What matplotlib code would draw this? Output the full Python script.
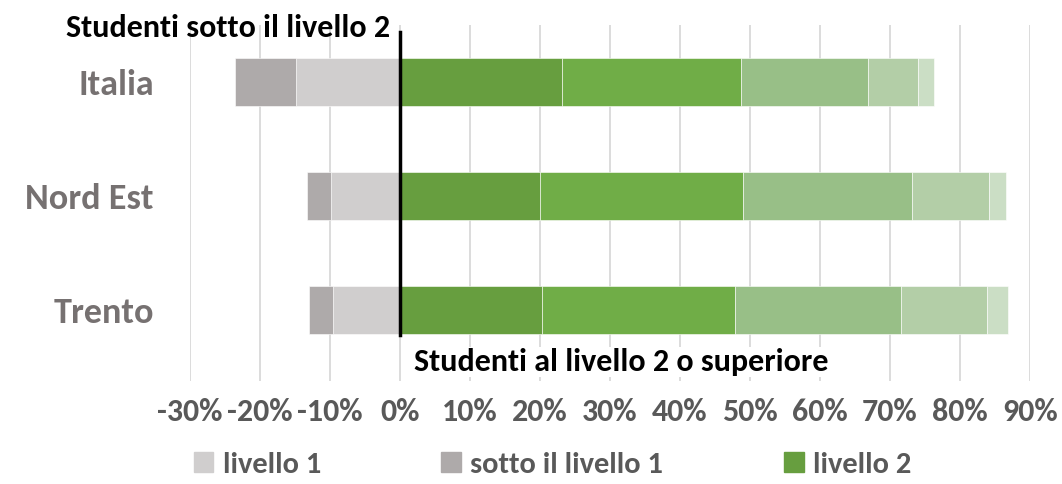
import matplotlib
matplotlib.use("Agg")
import matplotlib.pyplot as plt
from matplotlib import font_manager
from matplotlib.patches import Patch
import numpy as np

# pick a Calibri-like font if there is one
fam = "Lato"
for f in ["Carlito", "Liberation Sans Narrow"]:
    try:
        font_manager.findfont(f, fallback_to_default=False)
        fam = f
        break
    except Exception:
        pass
plt.rcParams["font.family"] = [fam, "DejaVu Sans"]

categorie = ["Italia", "Nord Est", "Trento"]
sotto_livello1 = [8.8, 3.4, 3.4]
livello1 = [14.8, 9.9, 9.6]
livello2 = [23.1, 20.0, 20.3]
livello3 = [25.6, 29.0, 27.5]
livello4 = [18.1, 24.1, 23.7]
livello5 = [7.2, 11.0, 12.4]
livello6 = [2.3, 2.5, 3.0]

ticks = [-30, -20, -10, 0, 10, 20, 30, 40, 50, 60, 70, 80, 90]

grigio = "#767171"
grigio_scuro = "#595959"
col_l1 = "#d0cece"
col_sotto = "#aeaaaa"
verdi = ["#679e3f", "#70ad47", "#98bf87", "#b3cea7", "#cbdec5"]

fig = plt.figure(figsize=(10.62, 4.84), dpi=100)
ax = fig.add_axes([190 / 1062, 1 - 381 / 484, 840 / 1062, 356 / 484])

y = np.arange(len(categorie))
h = 0.42

l1 = np.array(livello1)
ax.barh(y, -l1, height=h, color=col_l1, edgecolor="white", linewidth=0.4, zorder=2)
ax.barh(y, -np.array(sotto_livello1), left=-l1, height=h, color=col_sotto,
        edgecolor="white", linewidth=0.4, zorder=2)

left = np.zeros(len(categorie))
for serie, c in zip([livello2, livello3, livello4, livello5, livello6], verdi):
    ax.barh(y, serie, left=left, height=h, color=c, edgecolor="white",
            linewidth=0.4, zorder=2)
    left += np.array(serie)

ax.set_xlim(-30, 90)
ax.set_ylim(2.623, -0.5)
ax.set_xticks(ticks)
ax.set_xticklabels([f"{t}%" for t in ticks])
ax.set_yticks(y)
ax.set_yticklabels(categorie)
ax.xaxis.grid(True, color="#d9d9d9", linewidth=1.3, zorder=0)
ax.set_axisbelow(True)
for s in ax.spines.values():
    s.set_visible(False)
ax.tick_params(axis="both", length=0)
ax.tick_params(axis="x", pad=12, labelsize=23, labelcolor=grigio_scuro)
ax.tick_params(axis="y", pad=26, labelsize=26, labelcolor=grigio)
for lab in ax.get_xticklabels() + ax.get_yticklabels():
    lab.set_fontweight("bold")

ax.axvline(0, ymin=0.129, ymax=0.98, color="black", linewidth=2.5, zorder=3)

fig.text(228 / 1062, 1 - 28 / 484, "Studenti sotto il livello 2", ha="center",
         va="center", fontsize=23, fontweight="bold", color="black")
fig.text(621 / 1062, 1 - 362 / 484, "Studenti al livello 2 o superiore", ha="center",
         va="center", fontsize=23, fontweight="bold", color="black",
         bbox=dict(facecolor="white", edgecolor="none", pad=1))

handles = [Patch(color=col_l1, label="livello 1"),
           Patch(color=col_sotto, label="sotto il livello 1"),
           Patch(color=verdi[0], label="livello 2")]
leg = fig.legend(handles=handles, loc="center left", bbox_to_anchor=(166 / 1062, 1 - 465 / 484),
                 ncol=3, frameon=False, fontsize=22, handlelength=0.65, handleheight=0.65,
                 handletextpad=0.3, columnspacing=3.95)
for t in leg.get_texts():
    t.set_color(grigio_scuro)
    t.set_fontweight("bold")

fig.savefig("out.png", dpi=100)
